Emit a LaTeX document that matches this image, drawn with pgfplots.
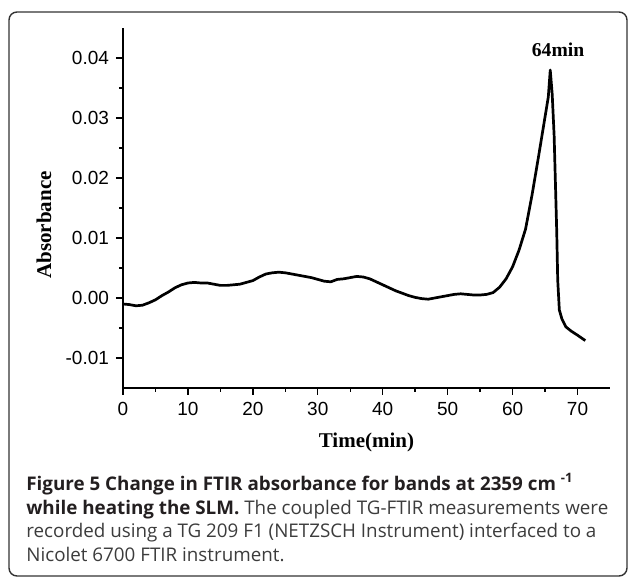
\documentclass[border=0pt]{standalone}
\usepackage{pgfplots}
\pgfplotsset{compat=1.18}
\usepackage{fontspec}
\newfontfamily\arial{Liberation Sans}
\newfontfamily\tnr{Liberation Serif}
\newfontfamily\osans{Open Sans}
\definecolor{captxt}{HTML}{3C3C3C}
\definecolor{capbold}{HTML}{231F20}
\begin{document}
\begin{tikzpicture}
\path[use as bounding box] (0,0) rectangle (314.5pt,289.5pt);
\draw[line width=0.7pt, color=black!80, rounded corners=4pt] (4.5pt,1.5pt) rectangle (313.5pt,283.5pt);
\begin{axis}[
  at={(61.5pt,95.5pt)}, anchor=south west,
  scale only axis, width=243.5pt, height=180pt,
  xmin=0, xmax=75, ymin=-0.015, ymax=0.045,
  scaled y ticks=false, scaled x ticks=false,
  axis lines=left, axis line style={-, line width=0.7pt},
  tick align=outside, tick style={line width=0.7pt, black},
  major tick length=3.5pt, minor tick length=2pt,
  xtick={0,10,20,30,40,50,60,70},
  xticklabels={0,10,20,30,40,50,60,70},
  ytick={-0.01,0,0.01,0.02,0.03,0.04},
  yticklabels={-0.01,0.00,0.01,0.02,0.03,0.04},
  minor x tick num=1, minor y tick num=1,
  /pgf/number format/assume math mode=true,
  ticklabel style={font=\arial\fontsize{9.5}{11}\selectfont},
  xlabel={Time(min)},
  xlabel style={font=\tnr\bfseries\fontsize{10.5}{12}\selectfont, yshift=-2pt},
  clip=false,
]
\addplot[black, line width=1.35pt, line join=round] coordinates {
(0,-0.0010)(1,-0.0011)(2,-0.0013)(3,-0.0012)(4,-0.0008)(5,-0.0003)
(6,0.0004)(7,0.0010)(8,0.0017)(9,0.0022)(10,0.0025)(11,0.0026)
(12,0.0025)(13,0.0025)(14,0.0023)(15,0.0021)(16,0.0021)(17,0.0022)
(18,0.0023)(19,0.0026)(20,0.0029)(21,0.0035)(22,0.0040)(23,0.0042)
(24,0.0043)(25,0.0042)(26,0.0040)(27,0.0038)(28,0.0036)(29,0.0034)
(30,0.0031)(31,0.0028)(32,0.0027)(33,0.0031)(34,0.0032)(35,0.0034)
(36,0.0036)(37,0.0035)(38,0.0032)(39,0.0027)(40,0.0022)(41,0.0017)
(42,0.0012)(43,0.0008)(44,0.0004)(45,0.0001)(46,-0.0001)(47,-0.0002)
(48,0.0000)(49,0.0002)(50,0.0004)(51,0.0006)(52,0.0007)(53,0.0006)
(54,0.0005)(55,0.0005)(56,0.0006)(57,0.0009)(58,0.0018)(59,0.0032)
(60,0.0052)(61,0.0080)(62,0.0115)(63,0.0172)(64,0.0236)(65,0.0302)
(65.5,0.0335)(65.8,0.0380)(66.1,0.0340)(66.4,0.0270)(66.6,0.0190)
(66.8,0.0110)(66.95,0.0030)(67.2,-0.0020)(67.6,-0.0035)(68.2,-0.0048)
(69,-0.0055)(70,-0.0062)(71.2,-0.0071)
};
\node[font=\tnr\bfseries\fontsize{9.8}{11}\selectfont] at (axis cs:67,0.0413) {64min};
\end{axis}
\node[rotate=90, font=\tnr\bfseries\fontsize{10.5}{12}\selectfont] at (22pt,177pt) {Absorbance};
\node[anchor=north west, inner sep=0pt, align=left, font=\osans\fontsize{9.4}{11.85}\selectfont, color=captxt] at (13pt,53pt)
{\textcolor{capbold}{\bfseries Figure 5 Change in FTIR absorbance for bands at 2359 cm $^{\mbox{\fontsize{6.5}{7}\selectfont -1}}$}\\
\textcolor{capbold}{\bfseries while heating the SLM.} The coupled TG-FTIR measurements were\\
recorded using a TG 209 F1 (NETZSCH Instrument) interfaced to a\\
Nicolet 6700 FTIR instrument.};
\end{tikzpicture}
\end{document}
